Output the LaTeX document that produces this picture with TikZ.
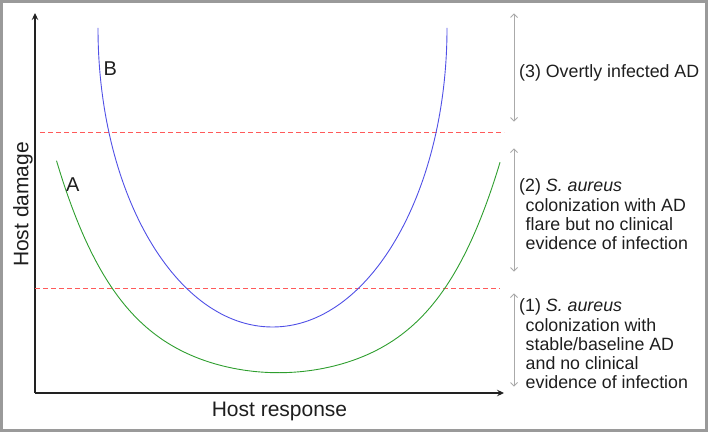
\documentclass[tikz,border=0pt]{standalone}
\usepackage{fontspec}
\setmainfont{Liberation Sans}
\usetikzlibrary{arrows.meta}
\definecolor{framegray}{HTML}{9A9A9A}
\definecolor{arrgray}{HTML}{AAAAAA}
\definecolor{reddash}{HTML}{FF5A5A}
\definecolor{curveblue}{HTML}{5050E6}
\definecolor{curvegreen}{HTML}{2E9E2E}
\definecolor{axisdark}{HTML}{222222}
\definecolor{textdark}{HTML}{1E1E1E}
\begin{document}
\begin{tikzpicture}[x=1pt,y=1pt,
  axis/.style={draw=axisdark, line width=1.2pt, -{Stealth[length=7pt,width=6.5pt,inset=2.5pt]}},
  rangearrow/.style={draw=arrgray, line width=1pt, {Straight Barb[length=3.5pt,width=7pt]}-{Straight Barb[length=3.5pt,width=7pt]}},
  threshold/.style={draw=reddash, line width=1pt, dash pattern=on 5pt off 3pt},
  sidetext/.style={anchor=base west, inner sep=0pt, text=textdark, font=\fontsize{17.8}{19.4}\selectfont},
  curvelabel/.style={anchor=base west, inner sep=0pt, text=textdark, font=\fontsize{20}{24}\selectfont},
  axislabel/.style={anchor=base, inner sep=0pt, text=textdark, font=\fontsize{21}{25}\selectfont},
  curve/.style={line width=0.9pt}
]
\useasboundingbox (0,0) rectangle (709,432);
% frame
\draw[framegray, line width=3pt] (1.5,1.5) rectangle (706.5,430.5);

% axes
\coordinate (O) at (35,39);
\coordinate (ytop) at (35,419);
\coordinate (xend) at (504,39);
\draw[axis] (O) -- (ytop);
\draw[axis] (O) -- (xend);

% thresholds
\coordinate (hiL) at (40,299.5);
\coordinate (hiR) at (504,299.5);
\coordinate (loL) at (35,143.5);
\coordinate (loR) at (500,143.5);
\draw[threshold] (hiL) -- (hiR);
\draw[threshold] (loL) -- (loR);

% curve B (blue)
\draw[curve, curveblue] (98,404) arc[start angle=180, end angle=360, x radius=174.5pt, y radius=299pt];
% curve A (green)
\draw[curve, curvegreen] plot[domain=-1:1, samples=140, smooth]
  ({278.5+222*\x}, {59.3+212*(0.5*\x*\x+0.5*pow(abs(\x),5))});

% curve labels
\node[curvelabel] (labB) at (103.5,356) {B};
\node[curvelabel] (labA) at (66,241) {A};

% axis labels
\node[axislabel, rotate=90] (ylab) at (28.3,227.5) {Host damage};
\node[axislabel] (xlab) at (279.5,15.5) {Host response};

% range arrows
\coordinate (r3t) at (514,418.7);
\coordinate (r3b) at (514,310.3);
\coordinate (r2t) at (514,283.7);
\coordinate (r2b) at (514,160.3);
\coordinate (r1t) at (514,138.7);
\coordinate (r1b) at (514,45.3);
\draw[rangearrow] (r3t) -- (r3b);
\draw[rangearrow] (r2t) -- (r2b);
\draw[rangearrow] (r1t) -- (r1b);

% range texts
\node[sidetext] (t3) at (519,354.3) {(3) Overtly infected AD};

\node[sidetext] (t2a) at (519,240.3) {(2) \textit{S. aureus}};
\node[sidetext] (t2b) at (525.5,221) {colonization with AD};
\node[sidetext] (t2c) at (525.5,201.7) {flare but no clinical};
\node[sidetext] (t2d) at (525.5,182.4) {evidence of infection};

\node[sidetext] (t1a) at (519,120.3) {(1) \textit{S. aureus}};
\node[sidetext] (t1b) at (525.5,101) {colonization with};
\node[sidetext] (t1c) at (525.5,81.7) {stable/baseline AD};
\node[sidetext] (t1d) at (525.5,62.4) {and no clinical};
\node[sidetext] (t1e) at (525.5,43.1) {evidence of infection};
\end{tikzpicture}
\end{document}
